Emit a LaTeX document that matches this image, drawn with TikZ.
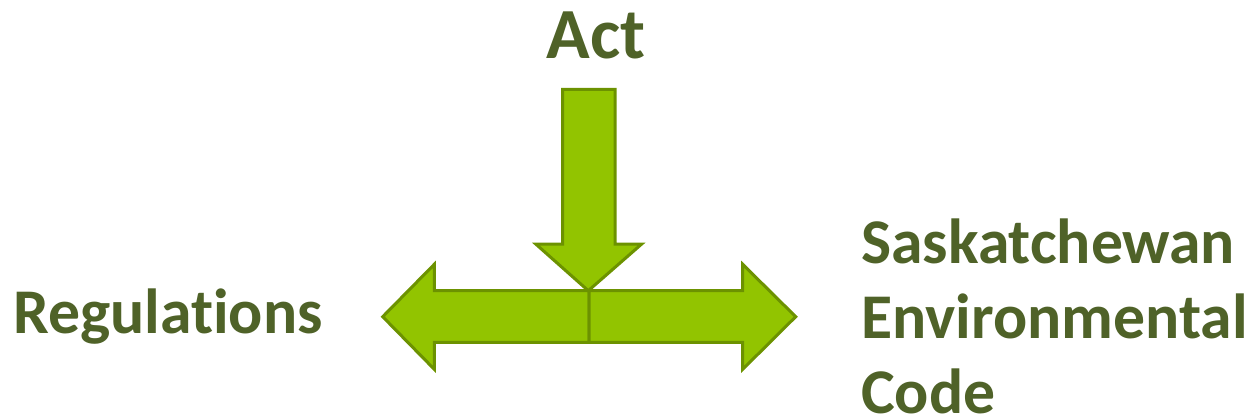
\documentclass[tikz,border=0pt]{standalone}
\usepackage{fontspec}
\setmainfont[Ligatures=NoCommon]{Carlito}
\definecolor{txtgreen}{HTML}{4F6228}
\definecolor{arrfill}{HTML}{92C400}
\definecolor{arrline}{HTML}{6C9200}
\begin{document}
\begin{tikzpicture}[x=1pt,y=-1pt,
  lbl/.style={text=txtgreen,font=\fontsize{63.7}{75}\selectfont\bfseries,inner sep=0pt,anchor=base west},
  arr/.style={fill=arrfill,draw=arrline,line width=3pt,line join=miter}]
\useasboundingbox (0,0) rectangle (1256,420);
% horizontal double arrow (two halves)
\draw[arr] (589,290.7) -- (434.3,290.7) -- (434.3,264.3) -- (382.7,316.7) -- (434.3,369.3) -- (434.3,342.3) -- (589,342.3) -- cycle;
\draw[arr] (589,290.7) -- (742.7,290.7) -- (742.7,264.3) -- (795.7,316.7) -- (742.7,369.3) -- (742.7,342.3) -- (589,342.3) -- cycle;
% down arrow
\draw[arr] (562.7,89.3) -- (615,89.3) -- (615,244) -- (641.7,244) -- (588.3,290.7) -- (535.7,244) -- (562.7,244) -- cycle;
% labels
\node[lbl,font=\fontsize{72}{80}\selectfont\bfseries,anchor=base] (act) at (596,59) {Act};
\node[lbl] (reg) at (13,333) {Regulations};
\node[lbl] (s1) at (861,263) {Saskatchewan};
\node[lbl] (s2) at (861,338) {Environmental};
\node[lbl] (s3) at (861,413) {Code};
\end{tikzpicture}
\end{document}
